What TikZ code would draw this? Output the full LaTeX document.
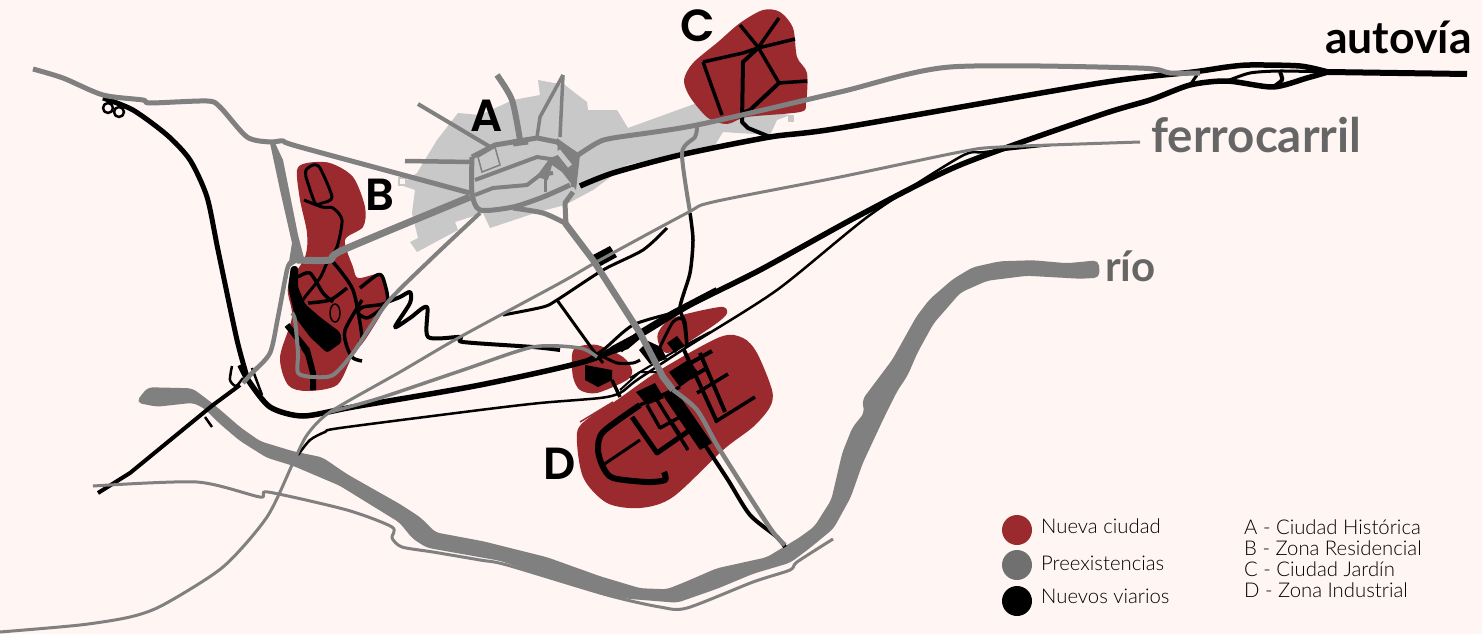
\documentclass[tikz,border=0pt]{standalone}
\usepackage{fontspec}
\setmainfont{Lato}[BoldFont={Lato Bold}]
\newfontfamily\lightf{Lato Light}
\newfontfamily\geomf{Poppins SemiBold}
\definecolor{bgc}{HTML}{FFF5F2}
\definecolor{redc}{HTML}{9B2A2F}
\definecolor{grayc}{HTML}{808080}
\definecolor{cityc}{HTML}{C8C8C8}
\definecolor{labc}{HTML}{666666}
\definecolor{lgc}{HTML}{707070}
\newcommand\sm[2]{\draw[#1] plot[smooth,tension=.45] coordinates {#2};}
\newcommand\st[2]{\draw[#1] plot coordinates {#2};}
\newcommand\blob[2]{\fill[#1] plot[smooth cycle,tension=.5] coordinates {#2};}
\tikzset{
 gr/.style={draw=grayc,line join=round,line width=#1 pt},
 bk/.style={draw=black,line join=round,line width=#1 pt},
 big/.style={font=\geomf\fontsize{45}{45}\selectfont,inner sep=0pt,text=black},
 auto/.style={font=\bfseries\fontsize{44.5}{45}\selectfont,inner sep=0pt,text=black,anchor=west},
 lab/.style={font=\bfseries\fontsize{47.5}{48}\selectfont,inner sep=0pt,text=labc,anchor=west},
 leg/.style={font=\lightf\fontsize{20.3}{21}\selectfont,inner sep=0pt,anchor=base west,text=black},
}
\begin{document}
\begin{tikzpicture}[x=1pt,y=-1pt]
\useasboundingbox (0,0) rectangle (1482,634);
\fill[bgc] (0,0) rectangle (1482,634);
% historic city
\fill[cityc] (410,242)--(417,252)--(458,230)--(455,222)--(483,213)--(490,228)--(538,212)--(565,205)--(593,190)--(627,165)--(680,153)--(715,145)--(723,132)--(770,135)--(777,120)--(790,115)--(697,103)--(628,128)--(617,110)--(588,110)--(587,102)--(575,93)--(565,85)--(538,80)--(540,95)--(513,100)--(480,115)--(458,113)--(437,140)--(417,173)--(400,185)--(415,190)--(412,213)--(418,238)--cycle;
\fill[cityc] (788,115) rectangle (794,122);
\draw[cityc,line width=1.5pt,fill=bgc] (399,178) rectangle (406,185);
% new city
\blob{redc}{(297,170)(307,163)(330,163)(353,177)(365,207)(363,227)(345,240)(353,267)(358,278)(377,274)(383,278)(388,300)(367,337)(352,357)(337,385)(307,391)(288,385)(280,357)(292,317)(288,287)(305,257)(307,233)(300,200)}
\blob{redc}{(763,10)(780,12)(793,28)(797,57)(807,73)(806,103)(800,112)(747,117)(727,124)(708,118)(690,97)(684,80)(693,63)(718,42)(740,23)}
\blob{redc}{(720,337)(743,338)(757,353)(772,390)(770,407)(753,427)(723,450)(673,497)(640,508)(607,503)(583,477)(577,433)(590,417)(617,400)(660,370)}
\blob{redc}{(572,355)(577,347)(597,345)(623,357)(632,370)(627,380)(597,393)(580,390)(573,377)}
\blob{redc}{(658,333)(673,318)(720,307)(727,313)(717,323)(687,343)(668,353)(660,347)}
\draw[redc,line width=1.5pt] (580,422)--(613,402);
% river
\filldraw[grayc,line width=1.5pt,line join=round,rounded corners=5pt] (137,402)--(148,388)--(192,389)--(203,397)--(217,408)--(240,428)--(260,442)--(293,452)--(322,458)--(347,475)--(400,505)--(420,518)--(435,533)--(483,542)--(547,558)--(600,577)--(640,589)--(667,590)--(687,582)--(717,569)--(767,558)--(800,538)--(815,527)--(832,500)--(843,453)--(853,428)--(865,413)--(863,400)--(893,360)--(917,317)--(930,300)--(953,280)--(973,268)--(1000,262)--(1033,261)--(1067,264)--(1098,261)--(1099,277)--(1080,278)--(1027,275)--(987,280)--(960,292)--(933,323)--(917,352)--(907,375)--(897,390)--(883,418)--(862,463)--(850,497)--(833,528)--(810,547)--(790,562)--(753,573)--(717,588)--(677,602)--(627,598)--(600,592)--(550,577)--(500,560)--(427,547)--(413,538)--(400,522)--(340,485)--(293,465)--(267,457)--(240,440)--(220,423)--(205,408)--(193,402)--(157,406)--cycle;
% black roads: main
\st{bk=6}{(1467,74)(1328,72)}
\sm{bk=5.5}{(1328,72)(1300,66)(1250,65)(1227,67)(1193,72)(1100,83)(840,128)(770,137)(680,155)(613,173)(580,186)}
\sm{bk=5.5}{(1328,72)(1307,78)(1273,87)(1227,81)(1190,85)(1150,100)(1100,115)(960,165)(860,215)(760,270)(690,305)(640,335)(590,360)(480,385)(353,407)(303,416)(270,407)(248,380)(240,365)}
\sm{bk=3}{(1227,81)(1250,73)(1280,71)(1328,72)}
\sm{bk=3}{(1190,85)(1197,75)}
\sm{bk=4}{(1273,87)(1282,80)(1280,72)}
\sm{bk=2.5}{(1050,145)(985,152)(960,157)(870,215)(777,290)(687,347)(637,380)(620,393)(600,398)(540,403)(480,410)(340,428)(325,432)(310,440)(298,455)}
% left
\sm{bk=5}{(103,98)(133,110)(167,135)(190,160)(207,197)(218,250)(237,340)(248,380)}
\draw[bk=2.5] (108,108) circle[radius=5];
\draw[bk=2.5] (119,112) circle[radius=5];
\st{bk=4}{(98,493)(130,473)(213,405)(240,385)}
\st{bk=2.5}{(205,417)(212,427)}
\sm{bk=2.5}{(232,366)(230,380)(236,386)(243,378)}
\st{bk=2.5}{(242,366)(250,385)(258,395)}
\st{bk=2.5}{(252,368)(262,395)}
% C roads
\st{bk=3.5}{(703,62)(722,115)}
\st{bk=3.5}{(703,62)(743,53)(758,48)(795,39)}
\st{bk=3.5}{(740,25)(758,47)(779,83)(807,81)}
\st{bk=3.5}{(779,18)(758,48)}
\st{bk=4}{(758,48)(743,62)(742,122)(748,128)(770,137)}
\st{bk=4}{(779,83)(750,110)(742,113)}
% B roads
\sm{bk=3}{(306,177)(306,170)(313,165)(320,168)(332,197)(322,203)(315,203)(306,177)}
\sm{bk=3}{(304,200)(322,207)(333,208)(342,220)(337,247)(327,263)(320,278)(305,297)(296,310)}
\fill[black,rounded corners=3pt] (291,266)--(298,266)--(298,287)--(305,304)--(320,317)--(340,332)--(342,342)--(327,353)--(310,337)--(295,317)--(288,287)--cycle;
\sm{bk=3.5}{(298,277)(310,273)(323,293)(333,302)}
\sm{bk=3.5}{(333,262)(353,290)(362,337)(358,342)}
\sm{bk=3.5}{(347,288)(330,300)(308,303)}
\sm{bk=3.5}{(360,288)(377,275)(383,278)(387,302)(363,307)(358,313)(367,318)(380,310)(387,302)}
\sm{bk=3.5}{(362,300)(345,330)(347,347)(353,358)(362,361)}
\st{bk=6}{(287,325)(307,350)(313,373)(313,390)}
\sm{bk=2.5}{(302,348)(310,360)}
\draw[bk=1.5] (335,313) ellipse[x radius=5,y radius=9];
\st{bk=3}{(300,308)(336,340)}
% wiggle
\sm{bk=4}{(387,302)(400,297)(410,292)(410,303)(395,327)(410,318)(427,307)(428,337)(460,337)(463,342)(533,347)(560,350)}
% middle
\sm{bk=3}{(667,228)(643,250)(603,270)(557,300)(543,307)(503,315)}
\st{bk=3}{(557,300)(593,350)(603,363)}
\fill[black] (593,255)--(610,246)--(617,257)--(597,268)--cycle;
\sm{bk=3.5}{(690,213)(693,240)(690,273)(680,307)(685,323)(687,347)}
% central black mass
\st{bk=6}{(717,290)(673,313)(640,333)(620,350)}
\fill[black] (640,331)--(660,322)--(628,349)--(590,362)--(612,346)--cycle;
\sm{bk=3}{(673,313)(633,325)(603,350)(583,362)}
\fill[black] (585,365)--(612,370)--(612,380)--(598,387)--(585,380)--cycle;
\st{bk=3.5}{(612,380)(620,397)}
\sm{bk=3}{(600,355)(617,363)(633,363)(640,360)}
\fill[black] (639,350)--(648,341)--(661,347)--(667,359)--(650,364)--cycle;
\fill[black] (667,343)--(677,336)--(684,345)--(675,353)--cycle;
\sm{bk=3}{(660,347)(673,322)(683,320)(687,347)}
\st{bk=2}{(630,378)(655,363)(680,348)(710,332)}
\st{bk=2}{(620,390)(640,372)(660,372)}
% D
\fill[black] (636,392)--(655,383)--(664,398)--(647,405)--cycle;
\fill[black] (669,372)--(688,360)--(699,373)--(680,387)--cycle;
\fill[black] (672,385)--(712,443)--(700,450)--(664,397)--cycle;
\st{bk=4}{(684,350)(717,422)}
\st{bk=4}{(700,353)(725,412)}
\st{bk=4}{(712,351)(687,365)}
\st{bk=4}{(707,368)(690,378)}
\st{bk=3.5}{(728,374)(697,393)}
\st{bk=3.5}{(755,397)(715,422)}
\sm{bk=6}{(640,405)(603,432)(598,450)(603,467)(613,478)(647,482)(665,480)(664,472)}
\st{bk=3}{(603,465)(640,440)}
\st{bk=5}{(632,417)(657,453)(690,430)}
\st{bk=3.5}{(647,405)(660,428)(680,417)}
\st{bk=3.5}{(657,400)(688,450)}
\st{bk=3.5}{(640,405)(680,387)}
\st{bk=3.5}{(670,420)(680,435)}
\sm{bk=4}{(705,445)(728,480)(750,515)(777,537)(785,547)}
% gray roads
\sm{gr=3}{(0,632)(80,625)(130,617)(163,605)(223,567)(267,517)(293,463)(307,435)(330,412)(400,372)(460,337)(560,283)(600,260)(687,213)(713,202)(840,177)(960,152)(1000,147)(1140,142)}
\sm{gr=3.5}{(330,412)(380,398)(463,370)(533,347)(580,348)(597,357)}
\sm{gr=3}{(93,486)(197,482)(260,497)(268,492)(347,510)(392,527)(392,538)(402,547)(433,552)(480,560)(507,565)(607,595)(660,607)(687,608)(753,582)(790,570)(797,562)(833,539)}
\sm{gr=5}{(33,69)(63,78)(103,95)(143,100)(150,103)(207,101)(220,107)(247,137)(270,142)(283,141)(300,147)(470,193)}
\fill[grayc] (270,143)--(275,143)--(283,160)--(290,195)--(298,235)--(304,258)--(288,268)--(292,243)--(280,190)--cycle;
\sm{gr=4.5}{(291,262)(287,270)(278,317)(270,353)(252,373)(243,383)}
\sm{gr=7}{(297,260)(330,260)(343,250)(470,197)}
\sm{gr=4}{(480,213)(430,260)(387,303)(353,353)(333,375)(313,377)(298,373)(298,353)(295,320)(292,313)}
% city streets
\st{gr=4}{(418,104)(492,148)}
\sm{gr=6}{(497,75)(512,100)(520,140)}
\st{gr=3.5}{(563,75)(540,117)(537,137)}
\st{gr=3.5}{(563,75)(560,137)}
\st{gr=4.5}{(405,161)(472,162)}
\st{gr=5}{(472,157)(495,145)(537,138)(557,142)(577,155)(573,187)}
\sm{gr=5}{(472,157)(472,193)(480,210)(513,207)(543,197)(570,185)}
\st{gr=4}{(475,180)(537,157)(557,160)}
\st{gr=4}{(475,195)(493,188)(527,185)(540,175)(553,173)}
\draw[grayc,line width=1.5pt] (478,157)--(482,172)--(500,165)--(495,147)--cycle;
\fill[grayc] (557,138)--(580,155)--(576,190)--(562,172)--(552,165)--(548,180)--(536,177)--(550,158)--(558,155)--cycle;
\draw[cityc,line width=5pt] (558,151)--(570,166);
\st{gr=7}{(513,143)(528,141)}
\st{gr=3}{(545,175)(545,192)}
\sm{gr=5}{(578,155)(597,143)(613,138)(697,125)(840,92)(950,67)(1138,68)(1170,73)(1200,73)}
\sm{gr=4}{(697,127)(695,137)(682,153)(690,212)}
\sm{gr=5}{(513,208)(543,213)(565,223)}
\st{gr=5}{(573,192)(565,203)(566,225)}
\st{gr=6.5}{(565,223)(593,260)(640,333)(663,377)(673,390)}
\sm{gr=4.5}{(673,390)(697,410)(720,450)(770,528)(785,545)}
% labels
\node[big] (lA) at (487,116) {A};
\node[big] (lB) at (380,195) {B};
\node[big] (lC) at (698,26) {C};
\node[big] (lD) at (560,464) {D};
\node[auto] (lauto) at (1325,37) {autovía};
\node[lab] (lferro) at (1151,135) {ferrocarril};
\node[lab,font=\bfseries\fontsize{42}{42}\selectfont] (lrio) at (1105,266) {río};
% legend
\node[circle,fill=redc,minimum size=30pt,inner sep=0pt] (c1) at (1017,530) {};
\node[circle,fill=lgc,minimum size=30pt,inner sep=0pt] (c2) at (1017,565) {};
\node[circle,fill=black,minimum size=30pt,inner sep=0pt] (c3) at (1017,601) {};
\node[leg] (t1) at (1041,533) {Nueva ciudad};
\node[leg] (t2) at (1041,570) {Preexistencias};
\node[leg] (t3) at (1041,603) {Nuevos viarios};
\node[leg] (k1) at (1244,534) {A - Ciudad Histórica};
\node[leg] (k2) at (1244,555) {B - Zona Residencial};
\node[leg] (k3) at (1244,576) {C - Ciudad Jardín};
\node[leg] (k4) at (1244,597) {D - Zona Industrial};
\end{tikzpicture}
\end{document}
